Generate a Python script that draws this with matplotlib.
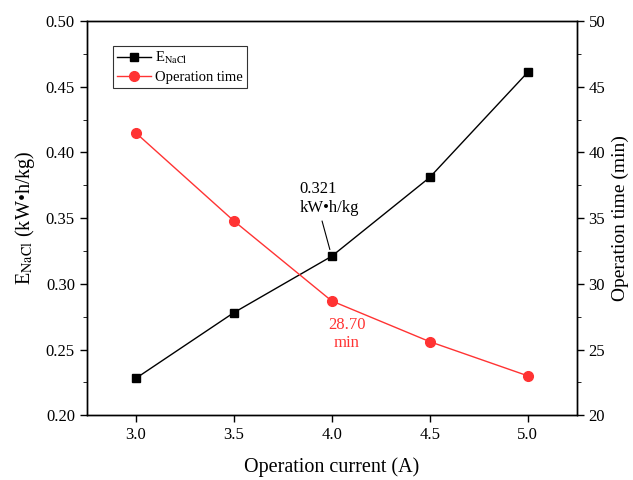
import matplotlib
matplotlib.use('Agg')
import matplotlib.pyplot as plt
from matplotlib.ticker import MultipleLocator

plt.rcParams['font.family'] = ['Liberation Serif', 'DejaVu Serif']
plt.rcParams['mathtext.fontset'] = 'stix'

# data
current = [3.0, 3.5, 4.0, 4.5, 5.0]
energy = [0.228, 0.278, 0.321, 0.381, 0.461]
op_time = [41.5, 34.8, 28.70, 25.6, 23.0]

fig = plt.figure(figsize=(6.33, 4.8), dpi=100)
ax = fig.add_axes([0.137, 0.135, 0.774, 0.821])
ax2 = ax.twinx()

l1, = ax.plot(current, energy, '-s', color='black', lw=1, ms=6, label=r'E$_{\mathrm{NaCl}}$')
l2, = ax2.plot(current, op_time, '-o', color='#ff3333', lw=1, ms=7, label='Operation time')

ax.set_xlim(2.75, 5.25)
ax.set_ylim(0.20, 0.50)
ax2.set_ylim(20, 50)
ax.set_xticks([3.0, 3.5, 4.0, 4.5, 5.0])
ax.set_yticks([0.20, 0.25, 0.30, 0.35, 0.40, 0.45, 0.50])
ax.yaxis.set_minor_locator(MultipleLocator(0.025))
ax2.yaxis.set_minor_locator(MultipleLocator(2.5))
ax2.set_yticks([20, 25, 30, 35, 40, 45, 50])

for a in (ax, ax2):
    a.tick_params(direction='out', labelsize=12, length=5, width=1)
    a.tick_params(which='minor', direction='out', length=3)
    for s in a.spines.values():
        s.set_linewidth(1)

ax.set_xlabel('Operation current (A)', fontsize=14.5, labelpad=10)
ax.set_ylabel(r'E$_{\mathrm{NaCl}}$ (kW•h/kg)', fontsize=14.5, labelpad=6)
ax2.set_ylabel('Operation time (min)', fontsize=14, labelpad=5)

ax.annotate('0.321\nkW•h/kg', xy=(4.0, 0.321), xytext=(3.837, 0.352),
            fontsize=12, ha='left', va='bottom', color='black',
            arrowprops=dict(arrowstyle='-', color='black', lw=0.8, shrinkB=5,
                            relpos=(0.35, 0)))
ax2.text(4.077, 27.5, '28.70\nmin', fontsize=12, color='#ff3333', ha='center', va='top')

leg = ax.legend(handles=[l1, l2], loc='upper left', bbox_to_anchor=(0.053, 0.937),
                fontsize=10.5, frameon=True, fancybox=False, edgecolor='black',
                handlelength=2.3, borderpad=0.3, labelspacing=0.3, handletextpad=0.3,
                borderaxespad=0)
leg.get_frame().set_linewidth(0.8)

fig.savefig('out.png', dpi=100)
